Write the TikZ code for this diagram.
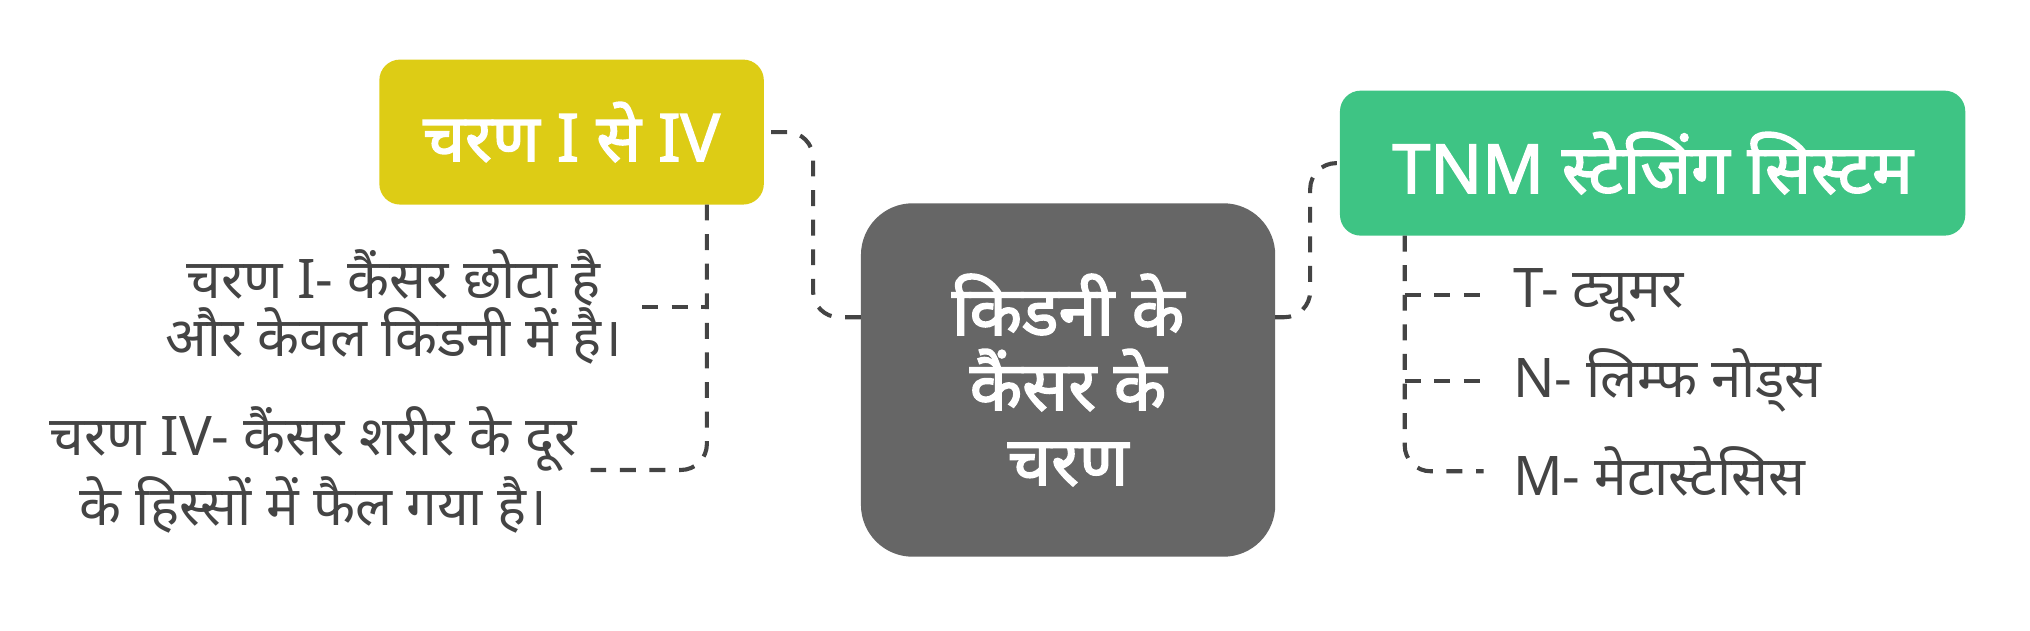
\documentclass[tikz,border=0pt]{standalone}
\usepackage{fontspec}
\setmainfont[Script=Devanagari, BoldFont={Noto Sans}, BoldFeatures={FakeBold=2.2}]{Noto Sans}
\usepackage{tikz}
\usetikzlibrary{positioning}
\definecolor{stageyellow}{HTML}{DDCC15}
\definecolor{tnmgreen}{HTML}{3EC484}
\definecolor{hubgray}{HTML}{666666}
\definecolor{linkgray}{HTML}{444444}
\tikzset{
  hubnode/.style={fill=hubgray, rounded corners=0.4cm, text=white, align=center,
    minimum width=3.2cm, minimum height=2.73cm, font=\bfseries\fontsize{15}{16.5}\selectfont},
  titlenode/.style={rounded corners=0.16cm, text=white, minimum height=1.12cm,
    font=\bfseries\fontsize{14.5}{16}\selectfont},
  leafnode/.style={text=linkgray, align=center, inner sep=0.1cm,
    font=\fontsize{12}{12.7}\selectfont},
  link/.style={draw=linkgray, line width=0.9pt, dash pattern=on 3.5pt off 3pt, rounded corners=0.2cm}
}

\begin{document}
\begin{tikzpicture}
  \useasboundingbox (0,0) rectangle (15.68,-4.87);
  % main boxes
  \node[hubnode] (hub) at (8.25,-2.935) {किडनी के\\कैंसर के\\चरण};
  \node[titlenode, fill=stageyellow, minimum width=2.97cm] (stage) at (4.415,-1.02) {चरण I से IV};
  \node[titlenode, fill=tnmgreen, minimum width=4.83cm, font=\bfseries\fontsize{15}{16}\selectfont] (tnm) at (12.765,-1.26) {TNM स्टेजिंग सिस्टम};
  % left leaves
  \node[leafnode, inner xsep=0.15cm] (stageone) at (3.04,-2.37) {चरण I- कैंसर छोटा है\\और केवल किडनी में है।};
  \node[leafnode] (stagefour) at (2.42,-3.63) {चरण IV- कैंसर शरीर के दूर\\के हिस्सों में फैल गया है।};
  % right leaves
  \node[leafnode, anchor=west, inner xsep=0.22cm] (tnmt) at (11.46,-2.28) {T- ट्यूमर};
  \node[leafnode, anchor=west, inner xsep=0.22cm] (tnmn) at (11.46,-2.94) {N- लिम्फ नोड्स};
  \node[leafnode, anchor=west, inner xsep=0.22cm] (tnmm) at (11.46,-3.64) {M- मेटास्टेसिस};
  % connectors
  \coordinate (hubleft) at (6.65,-2.45);
  \coordinate (hubright) at (9.85,-2.45);
  \coordinate (stagetrunk) at (5.46,-1.58);
  \coordinate (tnmtrunk) at (10.85,-1.82);
  \draw[link] (hubleft) -| (6.28,-1.7) |- (stage.east);
  \draw[link] (hubright) -| (10.12,-1.9) |- (tnm.west);
  \draw[link] (stagetrunk) |- (stagefour.east);
  \draw[link] (stageone.east) -- (stageone.east -| stagetrunk);
  \draw[link] (tnmtrunk) |- (tnmm.west);
  \draw[link] (tnmtrunk |- tnmt.west) -- (tnmt.west);
  \draw[link] (tnmtrunk |- tnmn.west) -- (tnmn.west);
\end{tikzpicture}
\end{document}
